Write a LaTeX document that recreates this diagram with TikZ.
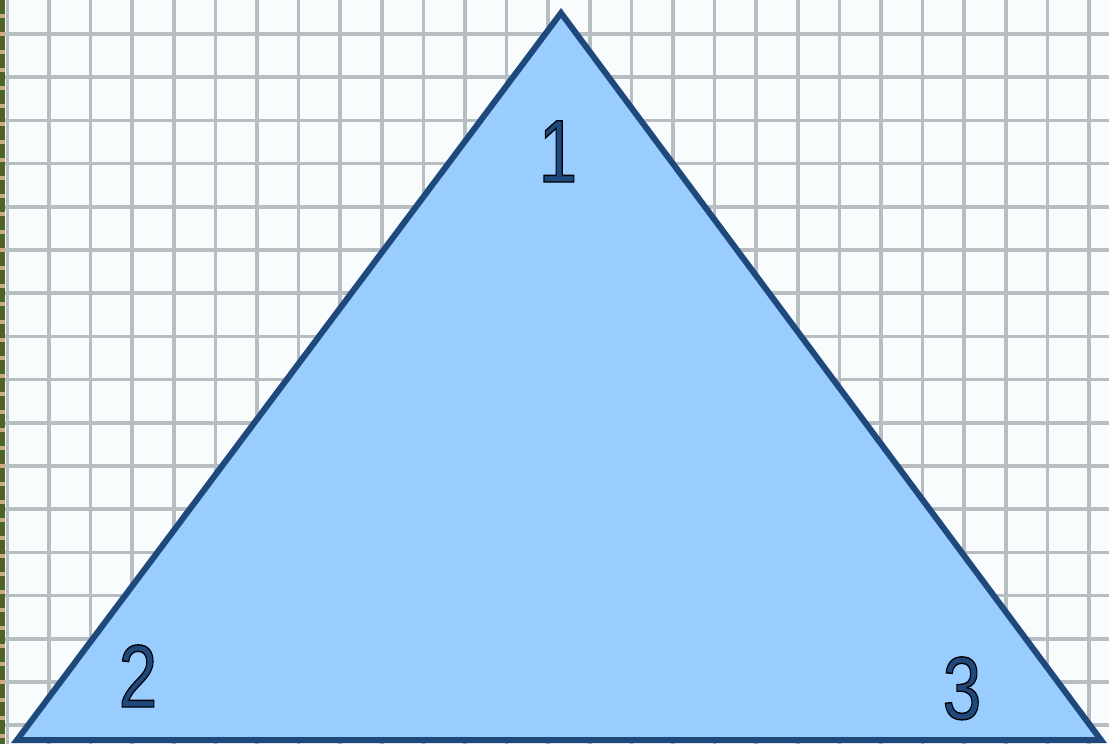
\documentclass[tikz,border=0pt]{standalone}
\usepackage{fontspec}
\setmainfont{Liberation Sans}
\definecolor{bgpaper}{RGB}{248,252,253}
\definecolor{gridc}{RGB}{182,190,194}
\definecolor{edgegreen}{RGB}{79,98,40}
\definecolor{edgetan}{RGB}{205,170,130}
\definecolor{tristroke}{RGB}{31,73,125}
\definecolor{trifill}{RGB}{153,204,255}
\newcommand{\outlined}[1]{\special{pdf:code q 2 Tr 0 0 0 RG 1.4 w}#1\special{pdf:code Q}}
\tikzset{
  gridline/.style={draw=gridc, line width=3.5pt},
  tri/.style={draw=tristroke, fill=trifill, line width=6pt, line join=miter},
  numlabel/.style={text=tristroke, inner sep=0pt, anchor=base, xscale=0.78,
    font=\fontsize{89}{89}\selectfont}
}
\begin{document}
\begin{tikzpicture}[x=1pt,y=-1pt]
  \useasboundingbox (0,0) rectangle (1109,744);
  \fill[bgpaper] (0,0) rectangle (1109,744);
  % grid
  \foreach \k in {0,...,26} {
    \draw[gridline] ({7.4+41.6*\k},0) -- ({7.4+41.6*\k},744);
  }
  \foreach \k in {0,...,16} {
    \draw[gridline] (0,{34+43.2*\k}) -- (1109,{34+43.2*\k});
  }
  % left edge strip
  \fill[edgetan] (0,0) rectangle (5,744);
  \draw[edgegreen, line width=5pt, dash pattern=on 14pt off 4pt] (2.5,0) -- (2.5,744);
  % triangle
  \coordinate (A) at (561,13);
  \coordinate (B) at (17,740);
  \coordinate (C) at (1101,740);
  \draw[tri] (A) -- (B) -- (C) -- cycle;
  % labels
  \node[numlabel] (n1) at (558,182) {\outlined{1}};
  \node[numlabel] (n2) at (138,707) {\outlined{2}};
  \node[numlabel] (n3) at (962,719) {\outlined{3}};
\end{tikzpicture}
\end{document}
